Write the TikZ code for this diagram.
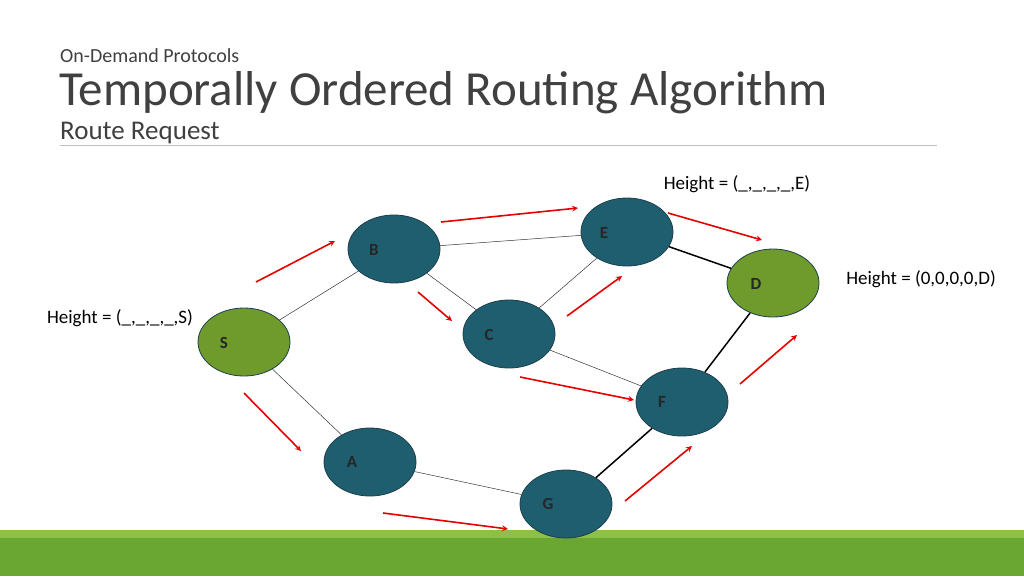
\documentclass[tikz,border=0pt]{standalone}
\usepackage{fontspec}
\setmainfont{Carlito}
\usetikzlibrary{shapes.geometric}
\definecolor{teal1}{HTML}{1F5E6E}
\definecolor{green1}{HTML}{6F9A2C}
\definecolor{rim}{HTML}{1C3F4C}
\definecolor{txt}{HTML}{404040}
\tikzset{
  nd/.style={ellipse,draw=rim,line width=0.8pt,minimum width=92pt,minimum height=68pt,fill=teal1},
  gn/.style={nd,fill=green1},
  lab/.style={font=\fontsize{17}{17}\selectfont\bfseries,text=black!85},
  thin/.style={draw=black!80,line width=0.5pt},
  thick/.style={draw=black,line width=1.5pt},
  red/.style={draw=red!90!black,line width=1.6pt,-stealth},
  ht/.style={font=\fontsize{19}{19}\selectfont,text=black}
}
\begin{document}
\begin{tikzpicture}[x=1pt,y=-1pt]
\useasboundingbox (0,0) rectangle (1024,576);
\fill[white] (0,0) rectangle (1024,576);
\fill[color={rgb,255:red,106;green,166;blue,50}] (0,538) rectangle (1024,576);
\fill[color={rgb,255:red,141;green,192;blue,74}] (0,530) rectangle (1024,538);
\node[anchor=west,text=txt,font=\fontsize{20}{20}\selectfont,inner sep=0pt] (h1) at (60,56) {On-Demand Protocols};
\node[anchor=west,text=txt,font=\fontsize{49}{49}\selectfont,inner sep=0pt] (h2) at (59,93) {Temporally Ordered Routing Algorithm};
\node[anchor=west,text=txt,font=\fontsize{27}{27}\selectfont,inner sep=0pt] (h3) at (60,133) {Route Request};
\draw[black!25,line width=0.8pt] (60,145) -- (937,145);

\node[gn] (S) at (244,342) {};
\node[nd] (B) at (394,249) {};
\node[nd] (E) at (627,232) {};
\node[gn] (D) at (773,283) {};
\node[nd] (C) at (509,334) {};
\node[nd] (F) at (682,402) {};
\node[nd] (A) at (370,462) {};
\node[nd] (G) at (566,504) {};
\foreach \n/\x/\y in {S/224/343,B/374/250,E/604/233,D/756/284,C/489/335,F/662/402,A/352/462,G/548/504}
  \node[lab] (l\n) at (\x,\y) {\n};

\path[thin] (S) -- (B);
\path[thin] (S) -- (A);
\path[thin] (B) -- (E);
\path[thin] (B) -- (C);
\path[thin] (E) -- (C);
\path[thin] (C) -- (F);
\path[thin] (A) -- (G);
\path[thick] (E) -- (D);
\path[thick] (G) -- (F);
\path[thick] (F) -- (D);

\coordinate (r1a) at (256,282); \coordinate (r1b) at (335,241);
\coordinate (r2a) at (441,222); \coordinate (r2b) at (578,208);
\coordinate (r3a) at (668,213); \coordinate (r3b) at (762,240);
\coordinate (r4a) at (418,292); \coordinate (r4b) at (452,321);
\coordinate (r5a) at (567,316); \coordinate (r5b) at (622,276);
\coordinate (r6a) at (520,377); \coordinate (r6b) at (634,400);
\coordinate (r7a) at (244,393); \coordinate (r7b) at (301,451);
\coordinate (r8a) at (383,513); \coordinate (r8b) at (508,529);
\coordinate (r9a) at (625,501); \coordinate (r9b) at (692,446);
\coordinate (r10a) at (740,384); \coordinate (r10b) at (797,335);
\foreach \i in {1,...,10} \draw[red] (r\i a) -- (r\i b);

\node[ht] (hE) at (737,184) {Height = (\_,\_,\_,\_,E)};
\node[ht] (hD) at (921,279) {Height = (0,0,0,0,D)};
\node[ht] (hS) at (120,318) {Height = (\_,\_,\_,\_,S)};
\end{tikzpicture}
\end{document}
